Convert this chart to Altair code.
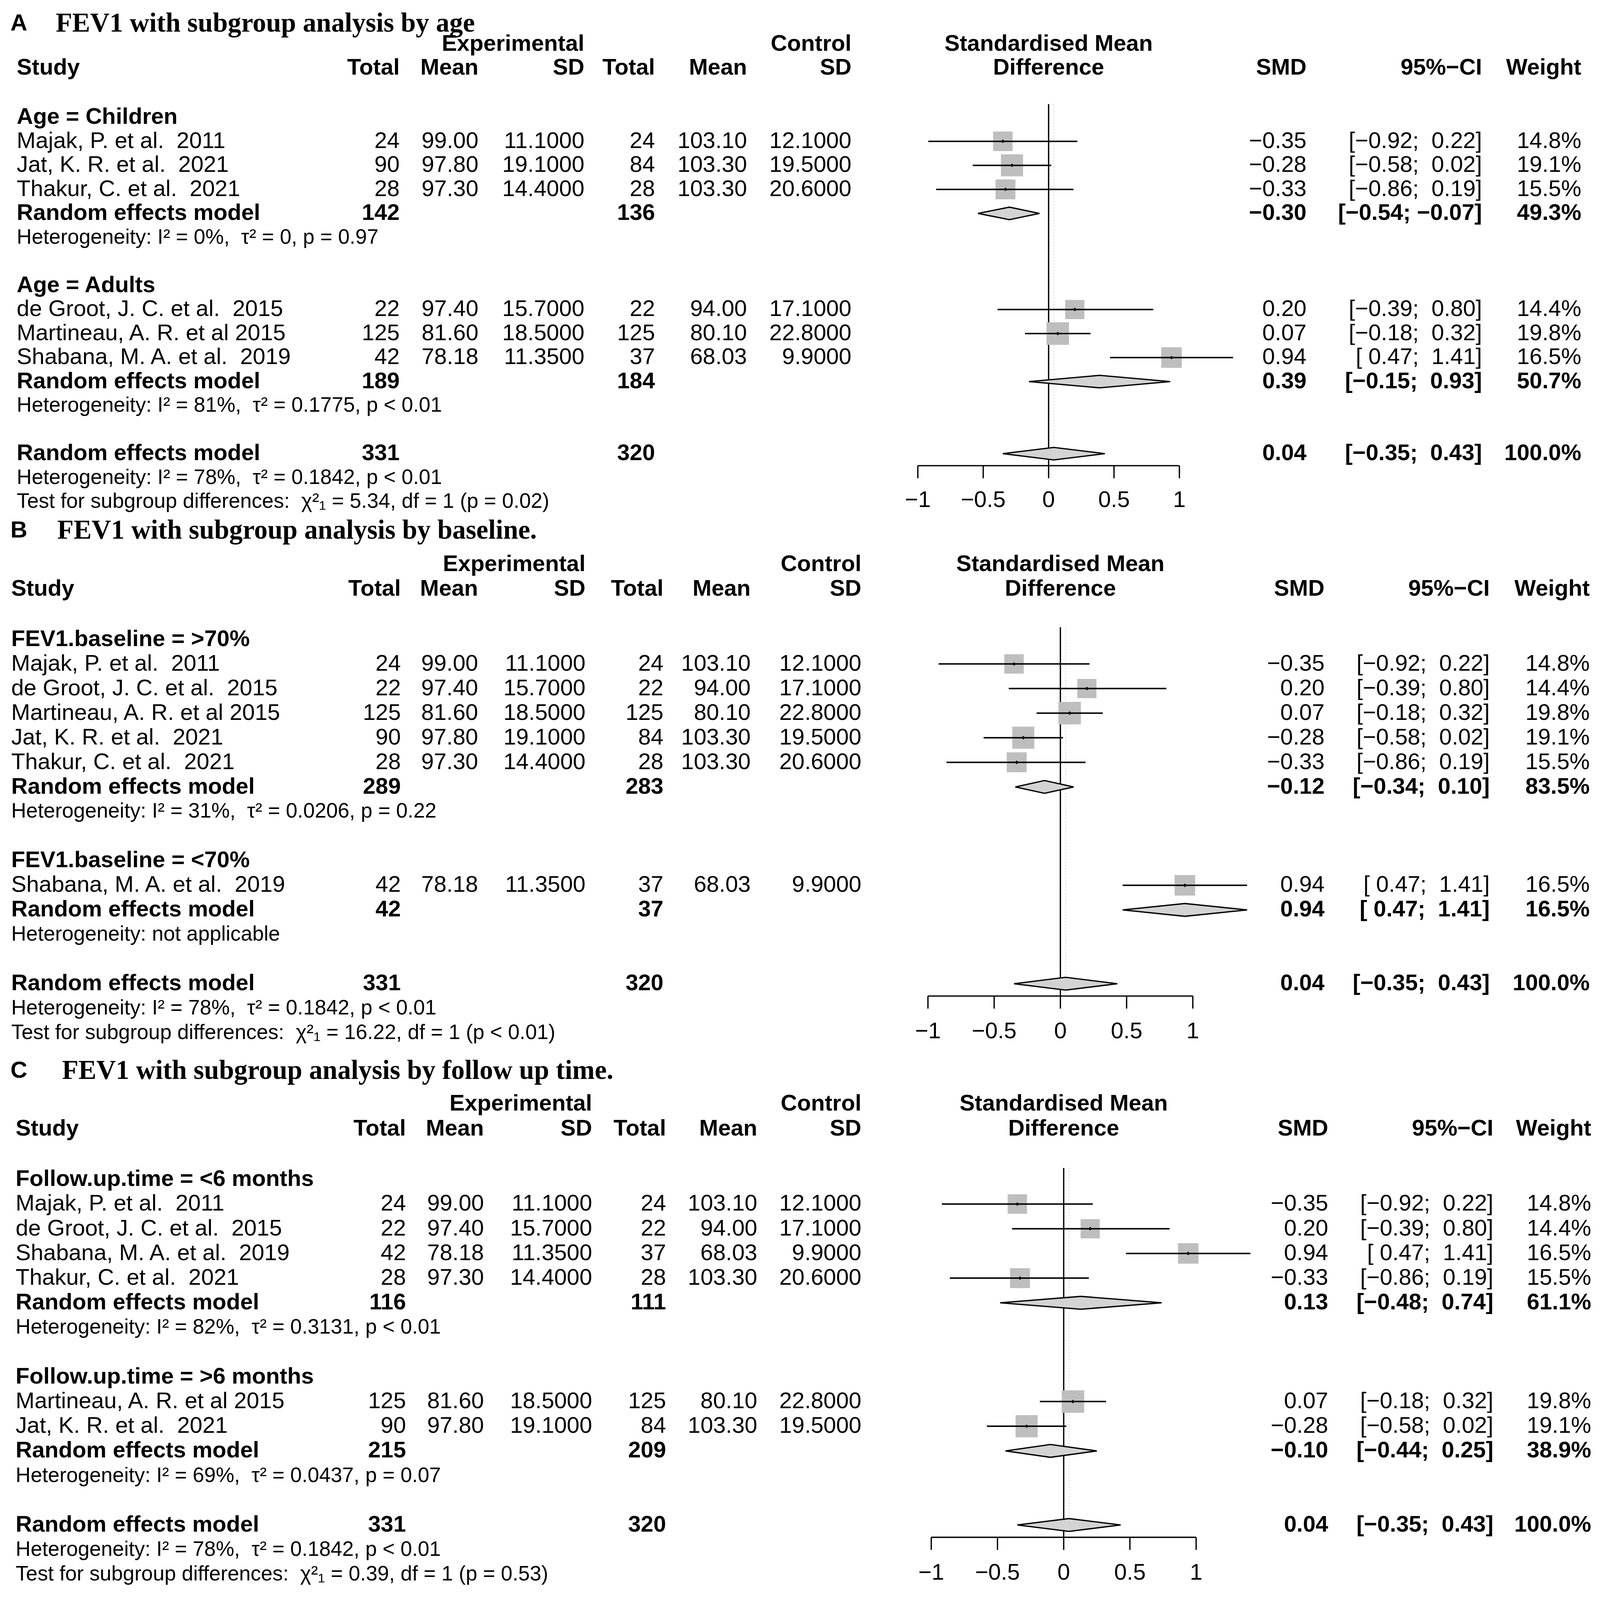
import altair as alt
import pandas as pd

# ---------------- data ----------------
STUDY_NAMES = ["Majak, P. et al.  2011", "de Groot, J. C. et al.  2015",
               "Martineau, A. R. et al 2015", "Jat, K. R. et al.  2021",
               "Thakur, C. et al.  2021", "Shabana, M. A. et al.  2019"]
EXP_TOTAL = [24, 22, 125, 90, 28, 42]
EXP_MEAN = [99.00, 97.40, 81.60, 97.80, 97.30, 78.18]
EXP_SD = [11.1, 15.7, 18.5, 19.1, 14.4, 11.35]
CTL_TOTAL = [24, 22, 125, 84, 28, 37]
CTL_MEAN = [103.10, 94.00, 80.10, 103.30, 103.30, 68.03]
CTL_SD = [12.1, 17.1, 22.8, 19.5, 20.6, 9.9]
SMD = [-0.35, 0.20, 0.07, -0.28, -0.33, 0.94]
CI_LO = [-0.92, -0.39, -0.18, -0.58, -0.86, 0.47]
CI_HI = [0.22, 0.80, 0.32, 0.02, 0.19, 1.41]
WEIGHT = [14.8, 14.4, 19.8, 19.1, 15.5, 16.5]

PANEL_LETTERS = ["A", "B", "C"]
PANEL_TITLES = ["FEV1 with subgroup analysis by age",
                "FEV1 with subgroup analysis by baseline.",
                "FEV1 with subgroup analysis by follow up time."]
SUBGROUP_LABELS = [["Age = Children", "Age = Adults"],
                   ["FEV1.baseline = >70%", "FEV1.baseline = <70%"],
                   ["Follow.up.time = <6 months", "Follow.up.time = >6 months"]]
SUBGROUP_MEMBERS = [[[0, 3, 4], [1, 2, 5]],
                    [[0, 1, 2, 3, 4], [5]],
                    [[0, 1, 5, 4], [2, 3]]]
SUBGROUP_N_EXP = [[142, 189], [289, 42], [116, 215]]
SUBGROUP_N_CTL = [[136, 184], [283, 37], [111, 209]]
SUBGROUP_SMD = [[-0.30, 0.39], [-0.12, 0.94], [0.13, -0.10]]
SUBGROUP_LO = [[-0.54, -0.15], [-0.34, 0.47], [-0.48, -0.44]]
SUBGROUP_HI = [[-0.07, 0.93], [0.10, 1.41], [0.74, 0.25]]
SUBGROUP_WEIGHT = [[49.3, 50.7], [83.5, 16.5], [61.1, 38.9]]
SUBGROUP_HET = [["I² = 0%,  τ² = 0, p = 0.97", "I² = 81%,  τ² = 0.1775, p < 0.01"],
                ["I² = 31%,  τ² = 0.0206, p = 0.22", "not applicable"],
                ["I² = 82%,  τ² = 0.3131, p < 0.01", "I² = 69%,  τ² = 0.0437, p = 0.07"]]
OVERALL_N_EXP = 331
OVERALL_N_CTL = 320
OVERALL_SMD = 0.04
OVERALL_LO = -0.35
OVERALL_HI = 0.43
OVERALL_WEIGHT = 100.0
OVERALL_HET = "I² = 78%,  τ² = 0.1842, p < 0.01"
TEST_CHI2 = ["5.34", "16.22", "0.39"]
TEST_P = ["p = 0.02", "p < 0.01", "p = 0.53"]
TICKS = [-1, -0.5, 0, 0.5, 1]
NULL_EFFECT = 0.0

HEADER_TOP = ["Experimental", "Control", "Standardised Mean"]
HEADER_BOTTOM = ["Study", "Total", "Mean", "SD", "Total", "Mean", "SD",
                 "Difference", "SMD", "95%−CI", "Weight"]

# ---------------- layout (design pixels for a 4342 x 5544 page) ----------------
OFF = 8
DW, DH = 4326, 5528          # design drawing size
FONT = "Liberation Sans"
SERIF = "Liberation Serif"
FS = 70
FS_HET = 64
LAYOUT = [
    dict(y0=388, rowh=84.0, title_row=-3.9,
         study=45, en=1086, em=1300, esd=1588, cn=1780, cm=2030, csd=2314,
         x0=2850, unit=355.5, smd=3551, ci=4028, w=4298, letter=28, title=151, ztop=-0.55),
    dict(y0=2213, rowh=86.0, title_row=-4.43,
         study=30, en=1089, em=1299, esd=1591, cn=1803, cm=2040, csd=2341,
         x0=2882, unit=360.0, smd=3600, ci=4049, w=4321, letter=28, title=155, ztop=-0.49),
    dict(y0=4101, rowh=86.3, title_row=-4.40,
         study=42, en=1103, em=1315, esd=1609, cn=1810, cm=2058, csd=2341,
         x0=2891, unit=360.0, smd=3610, ci=4059, w=4325, letter=28, title=168, ztop=-0.46),
]
AXIS_ROW = 14.5
TICK_LEN = 44
LABEL_ROW = 15.95
TOP_PAD = 14

# the drawing follows the real page size, so nothing is cut off
SX = alt.param(name="sx", expr=f"min(1.0, (windowSize()[0] - 22) / {DW})")
SY = alt.param(name="sy", expr=f"min(1.0, (windowSize()[1] - 48) / {DH})")
SF = alt.param(name="sf", expr="sqrt(sx * sy)")


def ex(s):
    return {"expr": s}


def sp(s):
    return s.replace("  ", " \u00a0")


def fnum(v, d=2):
    return f"{v:.{d}f}".replace("-", "−")


def fci(lo, hi):
    def pad(v):
        s = fnum(v)
        return s if v < 0 else "\u00a0" + s
    return "[" + pad(lo) + ";\u00a0" + pad(hi) + "]"


def build_rows(p):
    rows = []
    r = 0
    for g, label in enumerate(SUBGROUP_LABELS[p]):
        rows.append(dict(row=r, kind="group", study=label))
        r += 1
        for i in SUBGROUP_MEMBERS[p][g]:
            rows.append(dict(row=r, kind="study", study=sp(STUDY_NAMES[i]),
                             en=str(EXP_TOTAL[i]), em=f"{EXP_MEAN[i]:.2f}", esd=f"{EXP_SD[i]:.4f}",
                             cn=str(CTL_TOTAL[i]), cm=f"{CTL_MEAN[i]:.2f}", csd=f"{CTL_SD[i]:.4f}",
                             smd=fnum(SMD[i]), ci=fci(CI_LO[i], CI_HI[i]), w=f"{WEIGHT[i]:.1f}%",
                             est=SMD[i], lo=CI_LO[i], hi=CI_HI[i], weight=WEIGHT[i]))
            r += 1
        rows.append(dict(row=r, kind="pooled", study="Random effects model",
                         en=str(SUBGROUP_N_EXP[p][g]), cn=str(SUBGROUP_N_CTL[p][g]),
                         smd=fnum(SUBGROUP_SMD[p][g]),
                         ci=fci(SUBGROUP_LO[p][g], SUBGROUP_HI[p][g]),
                         w=f"{SUBGROUP_WEIGHT[p][g]:.1f}%",
                         est=SUBGROUP_SMD[p][g], lo=SUBGROUP_LO[p][g], hi=SUBGROUP_HI[p][g]))
        r += 1
        rows.append(dict(row=r, kind="het", study=sp("Heterogeneity: " + SUBGROUP_HET[p][g])))
        r += 2
    rows.append(dict(row=r, kind="pooled", study="Random effects model",
                     en=str(OVERALL_N_EXP), cn=str(OVERALL_N_CTL), smd=fnum(OVERALL_SMD),
                     ci=fci(OVERALL_LO, OVERALL_HI), w=f"{OVERALL_WEIGHT:.1f}%",
                     est=OVERALL_SMD, lo=OVERALL_LO, hi=OVERALL_HI))
    rows.append(dict(row=r + 1, kind="het", study=sp("Heterogeneity: " + OVERALL_HET)))
    rows.append(dict(row=r + 2, kind="het",
                     study=sp("Test for subgroup differences:  χ²₁ = " + TEST_CHI2[p]
                              + ", df = 1 (" + TEST_P[p] + ")")))
    df = pd.DataFrame(rows)
    for c in ["en", "em", "esd", "cn", "cm", "csd", "smd", "ci", "w"]:
        df[c] = df[c].fillna("")
    return df


def panel(p):
    L = LAYOUT[p]
    rh, y0 = L["rowh"], L["y0"] - OFF
    yscale = alt.Scale(domain=[0, 10],
                       range=[ex(f"{y0} * sy"), ex(f"{y0 + 10 * rh} * sy")],
                       zero=False, nice=False)
    xscale = alt.Scale(domain=[-1, 1],
                       range=[ex(f"{L['x0'] - L['unit'] - OFF} * sx"),
                              ex(f"{L['x0'] + L['unit'] - OFF} * sx")],
                       zero=False, nice=False)
    df = build_rows(p)
    Y = alt.Y("row:Q", scale=yscale, axis=None)

    def X(f):
        return alt.X(f, scale=xscale, axis=None)

    def YY(f):
        return alt.Y(f, scale=yscale, axis=None)

    def xv(px):
        return alt.value(ex(f"{px - OFF} * sx"))

    def fs(v):
        return ex(f"{v} * sf")

    def txt(col, px, align, kinds, bold=False, size=FS):
        return (alt.Chart(df)
                .transform_filter(alt.FieldOneOfPredicate(field="kind", oneOf=kinds))
                .mark_text(align=align, baseline="middle", font=FONT, fontSize=fs(size),
                           fontWeight="bold" if bold else "normal", color="black")
                .encode(x=xv(px), y=Y, text=alt.Text(f"{col}:N")))

    def label(text, px, row, align, bold=True, font=FONT, size=FS):
        return (alt.Chart(pd.DataFrame({"t": [text], "row": [row]}))
                .mark_text(align=align, baseline="middle", font=font, fontSize=fs(size),
                           fontWeight="bold" if bold else "normal", color="black")
                .encode(x=xv(px), y=Y, text="t:N"))

    layers = []
    zero_df = pd.DataFrame({"x": [NULL_EFFECT], "y1": [L["ztop"]], "y2": [AXIS_ROW]})
    layers.append(alt.Chart(zero_df).mark_rule(color="black", strokeWidth=fs(4)).encode(
        x=X("x:Q"), y=YY("y1:Q"), y2="y2:Q"))
    ov_df = pd.DataFrame({"x": [OVERALL_SMD], "y1": [L["ztop"]], "y2": [AXIS_ROW]})
    layers.append(alt.Chart(ov_df).mark_rule(color="#c8c8c8", strokeWidth=fs(2),
                                             strokeDash=[3, 5]).encode(
        x=X("x:Q"), y=YY("y1:Q"), y2="y2:Q"))

    # axis drawn from the tick list through the x scale
    tick_df = pd.DataFrame({"t": TICKS, "y1": [AXIS_ROW] * len(TICKS),
                            "y2": [AXIS_ROW + TICK_LEN / rh] * len(TICKS),
                            "yl": [LABEL_ROW] * len(TICKS)})
    dom_df = pd.DataFrame({"a": [min(TICKS)], "b": [max(TICKS)], "y1": [AXIS_ROW]})
    layers.append(alt.Chart(dom_df).mark_rule(color="black", strokeWidth=fs(4)).encode(
        x=X("a:Q"), x2="b:Q", y=YY("y1:Q")))
    layers.append(alt.Chart(tick_df).mark_rule(color="black", strokeWidth=fs(4)).encode(
        x=X("t:Q"), y=YY("y1:Q"), y2="y2:Q"))
    layers.append(alt.Chart(tick_df).mark_text(align="center", baseline="middle", font=FONT,
                                               fontSize=fs(FS), color="black").encode(
        x=X("t:Q"), y=YY("yl:Q"), text=alt.Text("t:Q", format="~g")))

    st = df[df["kind"] == "study"]
    layers.append(alt.Chart(st).mark_square(color="#bebebe", opacity=1).encode(
        x=X("est:Q"), y=Y,
        size=alt.Size("weight:Q",
                      scale=alt.Scale(domain=[0, 100], range=[0, ex("24300 * sx * sy")]),
                      legend=None)))
    layers.append(alt.Chart(st).mark_rule(color="black", strokeWidth=fs(4.5)).encode(
        x=X("lo:Q"), x2="hi:Q", y=Y))
    layers.append(alt.Chart(st).mark_point(shape="diamond", filled=True, color="black",
                                           size=ex("130 * sx * sy"), opacity=1).encode(
        x=X("est:Q"), y=Y))
    pl = df[df["kind"] == "pooled"].reset_index(drop=True)
    dpts = []
    hh = 0.26
    for k, rr in pl.iterrows():
        dpts.append(dict(id=k, dx=rr["lo"], dy=rr["row"], dy2=rr["row"]))
        dpts.append(dict(id=k, dx=rr["est"], dy=rr["row"] - hh, dy2=rr["row"] + hh))
        dpts.append(dict(id=k, dx=rr["hi"], dy=rr["row"], dy2=rr["row"]))
    ddf = pd.DataFrame(dpts)
    layers.append(alt.Chart(ddf).mark_area(fill="#d3d3d3", stroke="black", strokeWidth=fs(4),
                                           opacity=1, interpolate="linear").encode(
        x=X("dx:Q"), y=YY("dy:Q"), y2="dy2:Q", detail="id:N"))

    layers.append(txt("study", L["study"], "left", ["study"]))
    layers.append(txt("study", L["study"], "left", ["group", "pooled"], bold=True))
    layers.append(txt("study", L["study"], "left", ["het"], size=FS_HET))
    for col in ["en", "em", "esd", "cn", "cm", "csd", "smd", "ci", "w"]:
        layers.append(txt(col, L[col], "right", ["study"]))
        layers.append(txt(col, L[col], "right", ["pooled"], bold=True))

    r1, r2 = -3.05, -2.05
    layers.append(label(HEADER_TOP[0], L["esd"], r1, "right"))
    layers.append(label(HEADER_TOP[1], L["csd"], r1, "right"))
    layers.append(label(HEADER_TOP[2], L["x0"], r1, "center"))
    pos2 = [("study", "left"), ("en", "right"), ("em", "right"), ("esd", "right"),
            ("cn", "right"), ("cm", "right"), ("csd", "right"), ("x0", "center"),
            ("smd", "right"), ("ci", "right"), ("w", "right")]
    for text, (key, al) in zip(HEADER_BOTTOM, pos2):
        layers.append(label(text, L[key], r2, al))

    layers.append(label(PANEL_LETTERS[p], L["letter"], L["title_row"], "left", size=72))
    layers.append(label(PANEL_TITLES[p], L["title"], L["title_row"], "left", font=SERIF, size=83))
    return alt.layer(*layers)


chart = (alt.layer(panel(0), panel(1), panel(2))
         .resolve_scale(x="independent", y="independent", size="independent")
         .add_params(SX, SY, SF)
         .properties(width=1, height=1, background="white",
                     padding={"top": TOP_PAD, "left": 0, "right": 0, "bottom": 0},
                     autosize=alt.AutoSizeParams(type="pad"))
         .configure_view(stroke=None))

chart.save("out.html", embed_options={"renderer": "svg", "actions": False})
